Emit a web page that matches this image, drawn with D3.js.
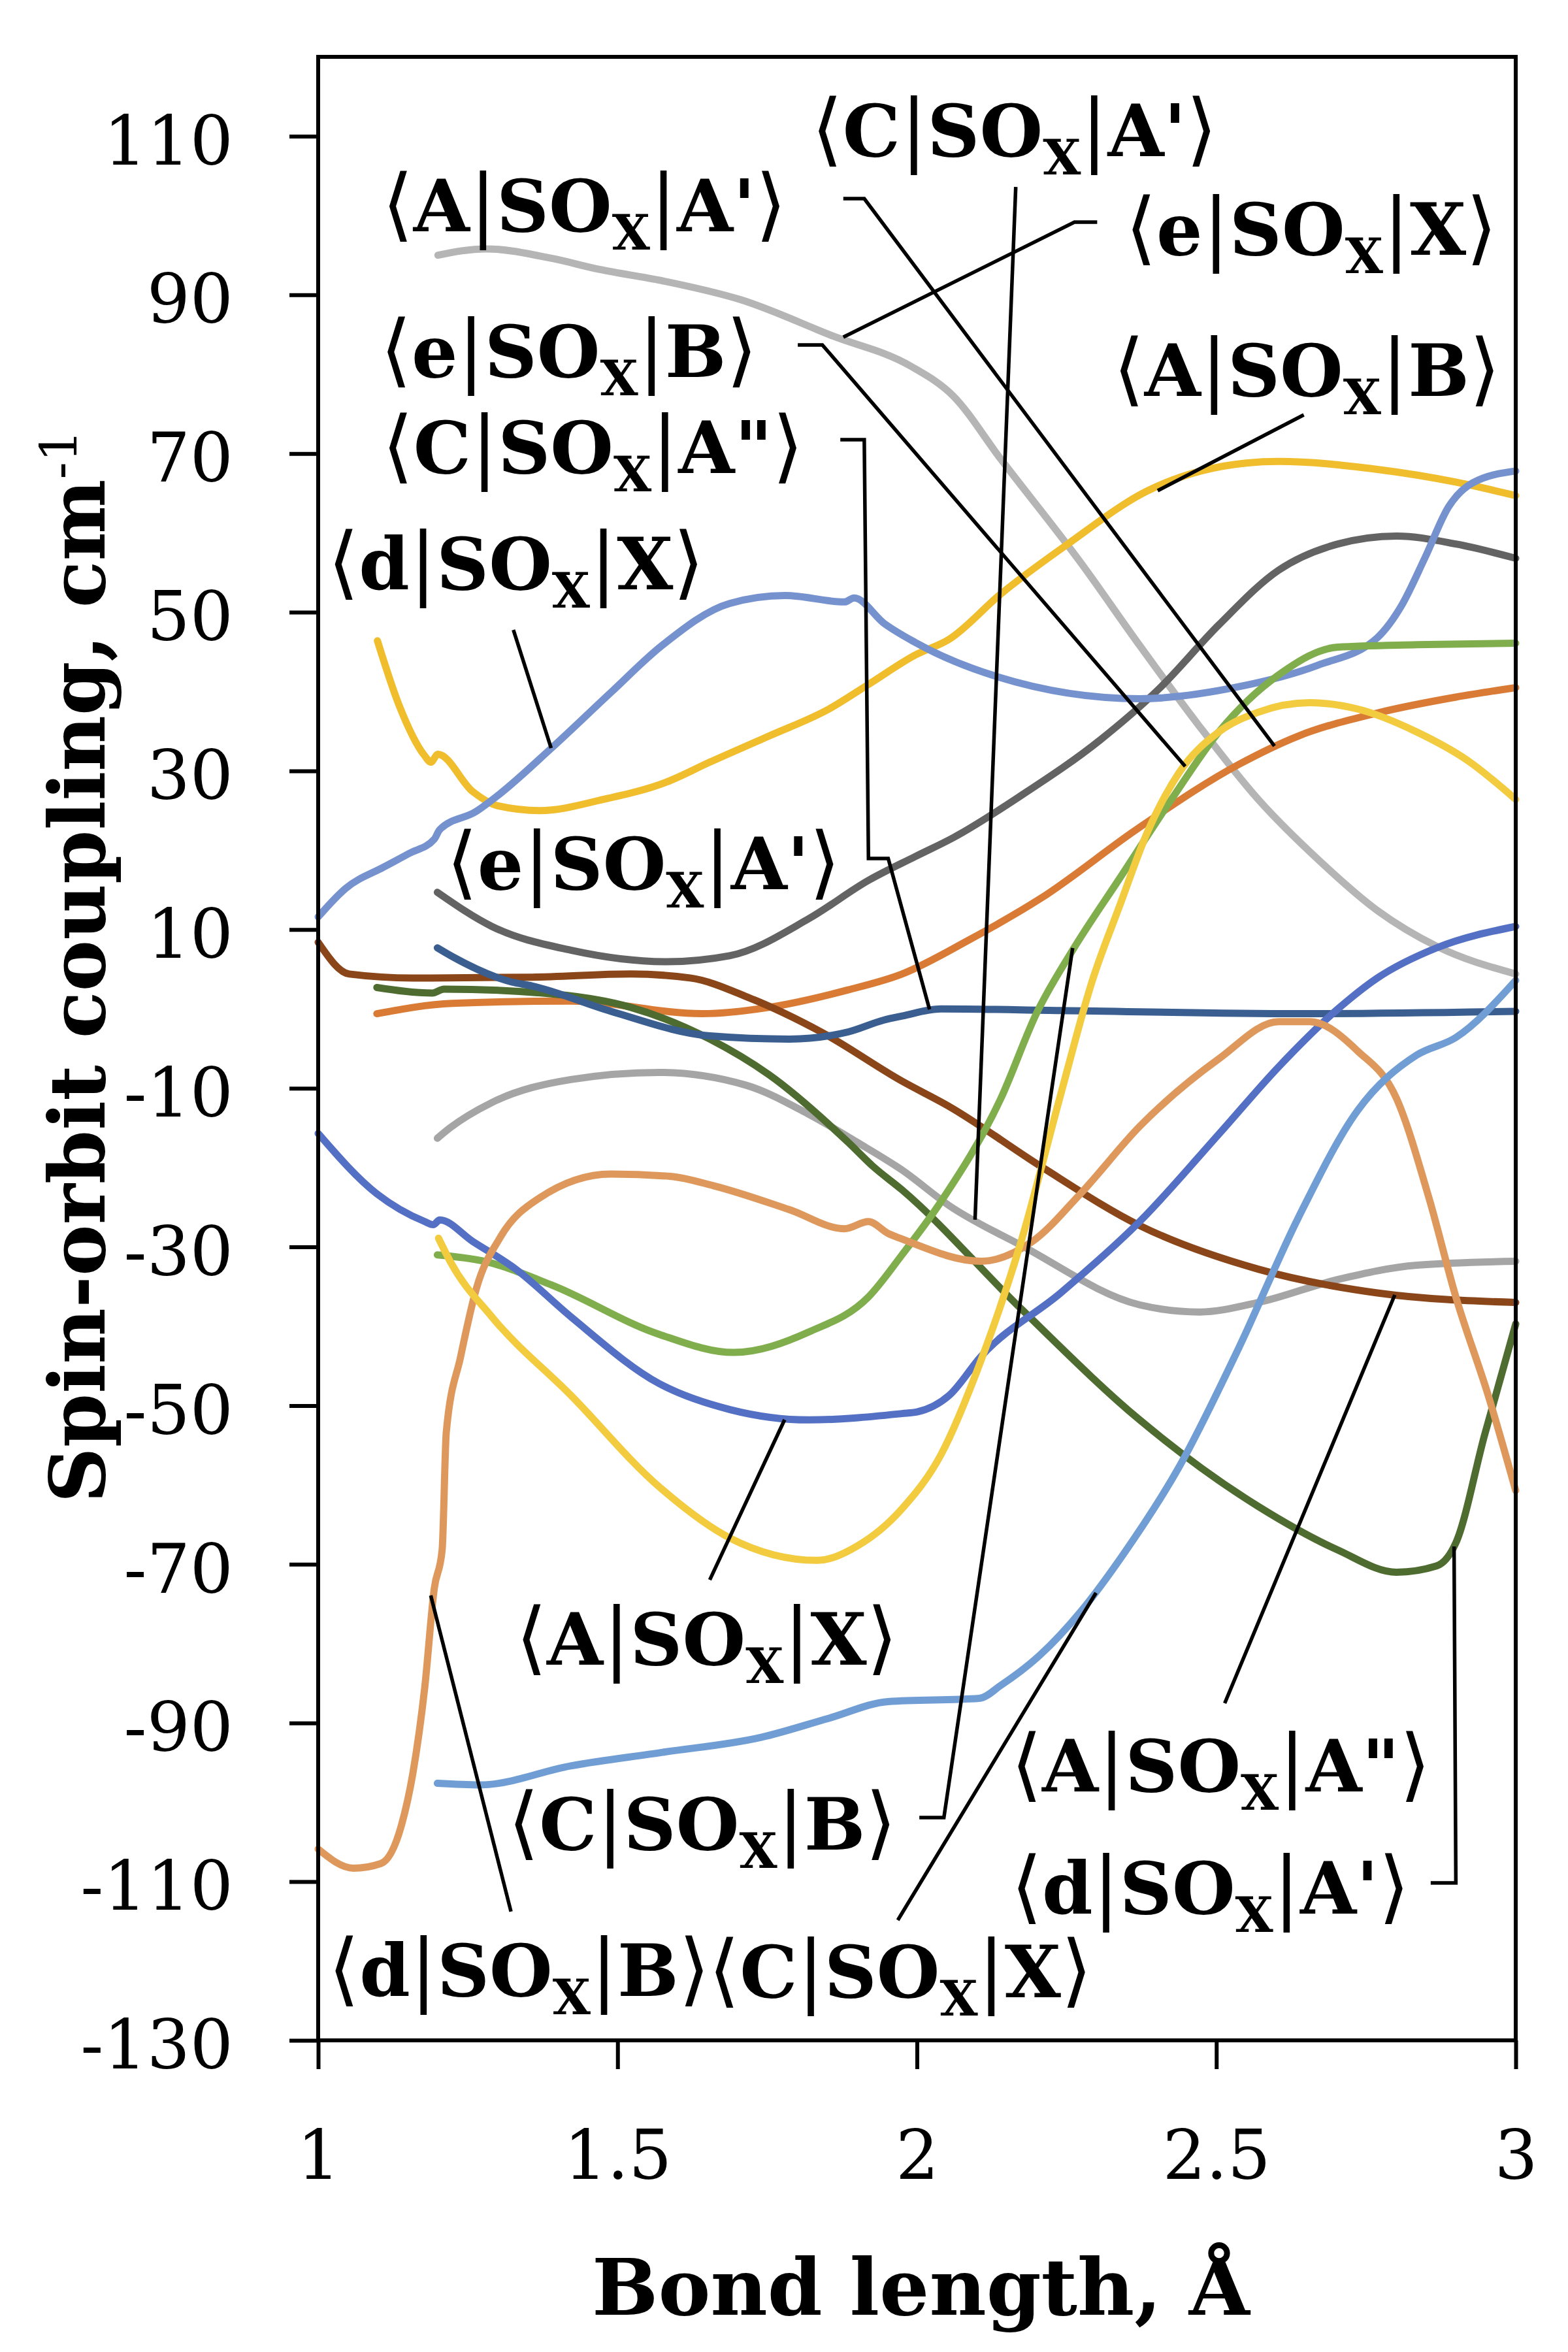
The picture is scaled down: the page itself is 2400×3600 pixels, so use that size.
<!DOCTYPE html>
<html>
<head>
<meta charset="utf-8">
<script src="https://cdn.jsdelivr.net/npm/d3@7"></script>
<style>
  body { margin: 0; background: #fff; }
  svg { display: block; }
</style>
</head>
<body>
<svg id="chart"></svg>
<script>
// ============== Data ==============
const xTicks = [1, 1.5, 2, 2.5, 3];
const yTicks = [-130, -110, -90, -70, -50, -30, -10, 10, 30, 50, 70, 90, 110];

// <e|SOx|X>
const eX_x = [1.2, 1.28, 1.39, 1.47, 1.573, 1.705, 1.86, 1.99, 2.06, 2.14, 2.273, 2.372, 2.47, 2.57, 2.669, 2.769, 2.868, 3.0];
const eX_y = [95, 95.8, 94.6, 93.2, 91.8, 89.4, 84.8, 81, 77.3, 69.3, 56.3, 45.8, 35.8, 26.4, 18.9, 12.4, 7.9, 4.4];
// <A|SOx|B>
const AB_x = [1.099, 1.135, 1.178, 1.188, 1.2, 1.258, 1.3, 1.37, 1.476, 1.582, 1.654, 1.753, 1.853, 1.919, 1.997, 2.054, 2.14, 2.252, 2.385, 2.55, 2.604, 2.769, 2.9, 3.0];
const AB_y = [46.4, 38.3, 31.9, 31.1, 32.1, 27.4, 25.6, 25.0, 26.4, 28.6, 31.1, 34.4, 37.8, 40.9, 44.6, 46.6, 52.3, 58.6, 65.3, 68.8, 69.0, 68.0, 66.4, 64.7];
// <d|SOx|X>
const dX_x = [1.0, 1.046, 1.11, 1.152, 1.194, 1.203, 1.264, 1.3, 1.39, 1.489, 1.574, 1.687, 1.78, 1.879, 1.895, 1.945, 1.997, 2.133, 2.372, 2.537, 2.669, 2.769, 2.809, 2.848, 2.888, 2.928, 3.0];
const dX_y = [11.6, 15.2, 17.9, 19.6, 21.4, 22.6, 24.9, 26.9, 32.9, 39.9, 45.8, 51.1, 52.1, 51.3, 51.8, 48.6, 46.2, 41.9, 39.1, 40.6, 43.3, 46.8, 50.8, 56.8, 63.3, 66.3, 67.8];
// <e|SOx|A'>
const eA1_x = [1.199, 1.29, 1.422, 1.582, 1.687, 1.82, 1.919, 1.997, 2.061, 2.174, 2.306, 2.405, 2.504, 2.604, 2.703, 2.801, 2.9, 3.0];
const eA1_y = [14.7, 10.4, 7.4, 5.95, 6.7, 11.4, 16.2, 19.2, 21.6, 26.9, 33.9, 40.4, 48.4, 55.3, 58.6, 59.6, 58.6, 56.8];
// <A|SOx|A'>
const AA1_x = [1.098, 1.224, 1.422, 1.641, 1.753, 1.885, 1.975, 2.087, 2.206, 2.372, 2.537, 2.637, 2.769, 2.9, 3.0];
const AA1_y = [-0.6, 0.7, 1.0, -0.6, 0.2, 2.4, 4.4, 8.7, 13.9, 22.9, 30.8, 34.4, 37.3, 39.3, 40.5];
// <C|SOx|B>
const CB_x = [1.199, 1.277, 1.39, 1.569, 1.694, 1.82, 1.919, 1.975, 2.04, 2.14, 2.2, 2.26, 2.338, 2.425, 2.504, 2.604, 2.703, 2.835, 3.0];
const CB_y = [-31.0, -31.8, -34.8, -41.0, -43.3, -40.7, -36.3, -31.0, -24.3, -11.3, -0.5, 7.4, 16.4, 26.4, 34.9, 42.1, 45.6, 45.9, 46.1];
// <e|SOx|B>
const eB_x = [1.201, 1.221, 1.29, 1.422, 1.569, 1.688, 1.833, 1.9, 1.975, 2.04, 2.107, 2.174, 2.24, 2.293, 2.338, 2.385, 2.438, 2.504, 2.57, 2.656, 2.736, 2.835, 2.92, 3.0];
const eB_y = [-28.9, -31.9, -38.8, -48.7, -60.2, -66.7, -69.5, -67.7, -63, -56.2, -44.3, -29.3, -10.8, 3.6, 12.9, 22.3, 29.8, 34.9, 37.4, 38.6, 37.8, 34.9, 31.3, 26.4];
// <A|SOx|X>
const AX_x = [1.0, 1.098, 1.178, 1.192, 1.203, 1.258, 1.33, 1.422, 1.569, 1.688, 1.82, 1.975, 2.0, 2.054, 2.107, 2.24, 2.372, 2.504, 2.604, 2.703, 2.769, 2.868, 3.0];
const AX_y = [-15.7, -23.3, -26.8, -27.2, -26.6, -29.3, -32.8, -38.8, -47.2, -50.5, -51.8, -51.0, -50.8, -48.7, -43.8, -35.8, -26.8, -15.8, -7.3, 0, 3.9, 7.7, 10.4];
// <C|SOx|A">
const CA2_x = [1.199, 1.224, 1.323, 1.357, 1.489, 1.654, 1.787, 1.885, 1.945, 1.975, 2.04, 2.24, 2.637, 3.0];
const CA2_y = [7.7, 6.6, 3.4, 2.9, -0.3, -3.4, -3.8, -2.9, -1.4, -0.9, 0.0, -0.2, -0.6, -0.3];
// <d|SOx|A'>
const dA1_x = [1.098, 1.191, 1.21, 1.39, 1.522, 1.654, 1.753, 1.885, 1.926, 1.975, 2.174, 2.372, 2.57, 2.703, 2.801, 2.868, 2.9, 2.948, 3.0];
const dA1_y = [2.7, 2.0, 2.5, 1.9, 0.2, -3.8, -8.3, -16.8, -19.8, -22.8, -37.8, -51.8, -62.7, -68.2, -71.0, -70.2, -67.3, -53.7, -39.7];
// <A|SOx|A">
const AA2_x = [1.0, 1.052, 1.158, 1.357, 1.522, 1.621, 1.72, 1.84, 1.975, 2.054, 2.206, 2.372, 2.57, 2.769, 3.0];
const AA2_y = [8.4, 4.4, 3.9, 4.0, 4.4, 3.9, 1.4, -2.9, -9.1, -12.3, -19.8, -27.3, -32.8, -35.8, -37.0];
// <C|SOx|A'>
const CA1_x = [1.199, 1.22, 1.29, 1.422, 1.569, 1.714, 1.82, 1.9, 1.975, 2.054, 2.174, 2.372, 2.472, 2.57, 2.703, 2.835, 3.0];
const CA1_y = [-16.3, -15.0, -11.8, -8.9, -8.0, -9.6, -13.3, -16.8, -20.3, -24.8, -29.8, -37.3, -38.2, -37.0, -34.1, -32.3, -31.8];
// <d|SOx|B>
const dB_x = [1.0, 1.059, 1.105, 1.139, 1.158, 1.178, 1.194, 1.207, 1.214, 1.238, 1.264, 1.304, 1.37, 1.489, 1.588, 1.661, 1.787, 1.879, 1.919, 1.952, 1.975, 2.107, 2.193, 2.273, 2.372, 2.504, 2.604, 2.656, 2.736, 2.801, 2.855, 2.9, 2.954, 3.0];
const dB_y = [-105.9, -108.3, -107.7, -102.9, -96.4, -85.5, -73, -68.2, -53.3, -43.8, -35.3, -28.8, -23.8, -20.8, -21.1, -22.3, -25.3, -27.7, -26.8, -28.3, -29.0, -31.8, -29.3, -23.3, -14.8, -6.3, -1.6, -1.6, -5.3, -11.3, -23.8, -36.3, -48.7, -60.7];
// <C|SOx|X>
const CX_x = [1.199, 1.27, 1.422, 1.575, 1.74, 1.853, 1.952, 2.104, 2.141, 2.206, 2.273, 2.345, 2.438, 2.537, 2.637, 2.736, 2.835, 2.9, 3.0];
const CX_y = [-97.6, -97.8, -95.4, -93.7, -91.8, -89.4, -87.3, -86.9, -85.2, -81.4, -76.0, -68.7, -57.7, -42.8, -26.3, -12.8, -5.8, -3.6, 3.6];

const series = [
  { id: 'eX', xs: eX_x, ys: eX_y },
  { id: 'CA1', xs: CA1_x, ys: CA1_y },
  { id: 'eA1', xs: eA1_x, ys: eA1_y },
  { id: 'AB', xs: AB_x, ys: AB_y },
  { id: 'dX', xs: dX_x, ys: dX_y },
  { id: 'AA1', xs: AA1_x, ys: AA1_y },
  { id: 'AA2', xs: AA2_x, ys: AA2_y },
  { id: 'dA1', xs: dA1_x, ys: dA1_y },
  { id: 'CA2', xs: CA2_x, ys: CA2_y },
  { id: 'CB', xs: CB_x, ys: CB_y },
  { id: 'AX', xs: AX_x, ys: AX_y },
  { id: 'dB', xs: dB_x, ys: dB_y },
  { id: 'eB', xs: eB_x, ys: eB_y },
  { id: 'CX', xs: CX_x, ys: CX_y }
];

// label text parts: bra, ket; anchor = left edge / baseline in data units
const labelIds = ['AA1', 'eB', 'CA2', 'dX', 'eA1', 'CA1', 'eX', 'AB', 'AX', 'CB', 'dB', 'CX', 'AA2', 'dA1'];
const labelBra = ['A', 'e', 'C', 'd', 'e', 'C', 'e', 'A', 'A', 'C', 'd', 'C', 'A', 'd'];
const labelKet = ["A'", 'B', 'A"', 'X', "A'", "A'", 'X', 'B', 'X', 'B', 'B', 'X', 'A"', "A'"];
const labelX = [1.107, 1.104, 1.107, 1.016, 1.214, 1.824, 2.348, 2.328, 1.33, 1.317, 1.017, 1.652, 2.157, 2.157];
const labelY = [98.0, 79.65, 67.55, 52.9, 15.1, 107.5, 95.05, 77.3, -82.65, -105.95, -124.4, -124.6, -98.6, -114.0];

// leader lines (data units)
const leaders = [
  [[1.877, 102.13], [1.912, 102.13], [2.597, 33.13]],
  [[1.801, 83.69], [1.842, 83.69], [2.448, 30.57]],
  [[1.872, 71.75], [1.912, 71.75], [1.919, 18.96], [1.952, 18.96], [2.021, -0.06]],
  [[1.326, 47.78], [1.389, 32.88]],
  [[2.165, 103.6], [2.097, -26.57]],
  [[2.301, 99.17], [2.263, 99.17], [1.877, 84.67]],
  [[2.646, 74.88], [2.402, 65.32]],
  [[1.779, -51.77], [1.654, -71.95]],
  [[2.26, 7.68], [2.045, -101.92], [2.004, -101.92]],
  [[1.188, -73.92], [1.322, -113.77]],
  [[2.299, -73.59], [1.968, -114.85]],
  [[2.798, -36.04], [2.514, -87.51]],
  [[2.897, -67.75], [2.9, -110.15], [2.858, -110.15]]
];

const COLORS = {
  eX: '#b5b5b5', CA1: '#a5a5a5', eA1: '#636363', AB: '#f0bd2c', dX: '#7592cf',
  AA1: '#d97b35', AA2: '#8a4619', dA1: '#4e6b30', CA2: '#3a5e8f', CB: '#80ae4d',
  AX: '#5470c4', dB: '#de985c', eB: '#f2cb3e', CX: '#6f9dd4'
};

const SERIF = '"DejaVu Serif", "Liberation Serif", serif';

// ============== Chart ==============
const W = 2400, H = 3600;
const M = { left: 487, top: 87, right: 80, bottom: 477 };

const svg = d3.select('#chart').attr('width', W).attr('height', H);
svg.append('rect').attr('width', W).attr('height', H).attr('fill', '#fff');

const x = d3.scaleLinear().domain([1, 3]).range([M.left, W - M.right]);
const y = d3.scaleLinear().domain([-130, 120]).range([H - M.bottom, M.top]);

// axes (plain hyphen for negatives, like the original)
const yAxis = svg.append('g').attr('transform', `translate(${M.left},0)`)
  .call(d3.axisLeft(y).tickValues(yTicks).tickSize(44).tickSizeOuter(0).tickPadding(86).tickFormat(d => String(d)));
const xAxis = svg.append('g').attr('transform', `translate(0,${H - M.bottom})`)
  .call(d3.axisBottom(x).tickValues(xTicks).tickSize(44).tickSizeOuter(0).tickPadding(94).tickFormat(d => String(d)));

[yAxis, xAxis].forEach(a => {
  a.select('.domain').remove();
  a.selectAll('.tick line').attr('stroke', '#000').attr('stroke-width', 6);
  a.selectAll('.tick text').attr('font-family', SERIF).attr('font-size', 104).attr('fill', '#000');
});
yAxis.selectAll('.tick text').attr('dy', '0.41em');

// curves
const line = d3.line().x(d => x(d[0])).y(d => y(d[1])).curve(d3.curveMonotoneX);
svg.append('g').selectAll('path').data(series).enter().append('path')
  .attr('d', s => line(s.xs.map((v, i) => [v, s.ys[i]])))
  .attr('fill', 'none')
  .attr('stroke', s => COLORS[s.id])
  .attr('stroke-width', 11)
  .attr('stroke-linecap', 'round')
  .attr('stroke-linejoin', 'round');

// frame
svg.append('rect')
  .attr('x', x(1)).attr('y', y(120))
  .attr('width', x(3) - x(1)).attr('height', y(-130) - y(120))
  .attr('fill', 'none').attr('stroke', '#000').attr('stroke-width', 6);

// leader lines
const lead = d3.line().x(d => x(d[0])).y(d => y(d[1]));
svg.append('g').selectAll('path').data(leaders).enter().append('path')
  .attr('d', lead).attr('fill', 'none').attr('stroke', '#000').attr('stroke-width', 5.5);

// labels  ⟨bra|SOx|ket⟩
const lg = svg.append('g').attr('font-family', SERIF).attr('fill', '#000');
labelIds.forEach((id, i) => {
  const t = lg.append('text').attr('x', x(labelX[i])).attr('y', y(labelY[i])).attr('font-size', 111);
  t.append('tspan').attr('font-weight', 'normal').attr('font-size', 122).text('\u27E8');
  t.append('tspan').attr('font-weight', 'bold').text(labelBra[i]);
  t.append('tspan').attr('font-weight', 'normal').attr('font-size', 122).text('|');
  t.append('tspan').attr('font-weight', 'bold').text('SO');
  t.append('tspan').attr('font-weight', 'bold').attr('font-size', 75).attr('dy', 28).text('X');
  t.append('tspan').attr('font-weight', 'normal').attr('font-size', 122).attr('dy', -28).text('|');
  t.append('tspan').attr('font-weight', 'bold').text(labelKet[i]);
  t.append('tspan').attr('font-weight', 'normal').attr('font-size', 122).text('\u27E9');
});

// axis titles
svg.append('text')
  .attr('x', (x(1) + x(3)) / 2 + 6).attr('y', 3543)
  .attr('text-anchor', 'middle').attr('font-family', SERIF).attr('font-weight', 'bold').attr('font-size', 120)
  .text('Bond length, Å');

const yt = svg.append('text')
  .attr('transform', 'translate(160,1479) rotate(-90)')
  .attr('text-anchor', 'middle').attr('font-family', SERIF).attr('font-weight', 'bold').attr('font-size', 118);
yt.append('tspan').text('Spin-orbit coupling, cm');
yt.append('tspan').attr('font-weight', 'normal').attr('font-size', 78).attr('dy', -42).text('-1');
</script>
</body>
</html>
